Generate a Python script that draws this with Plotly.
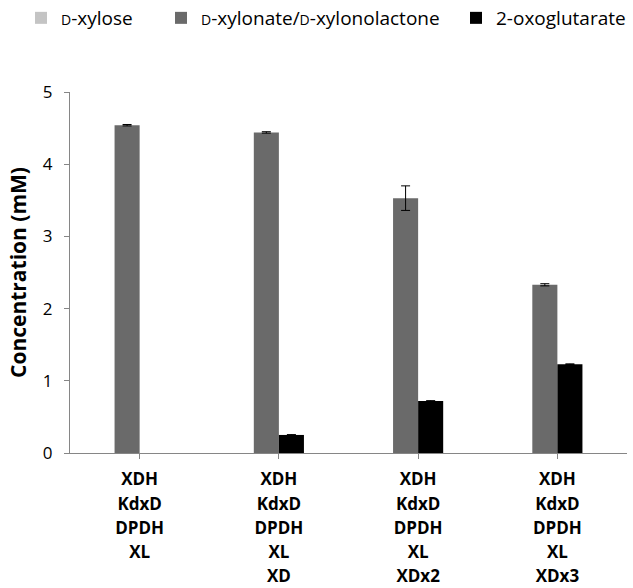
import plotly.graph_objects as go

categories = ["XDH<br>KdxD<br>DPDH<br>XL",
              "XDH<br>KdxD<br>DPDH<br>XL<br>XD",
              "XDH<br>KdxD<br>DPDH<br>XL<br>XDx2",
              "XDH<br>KdxD<br>DPDH<br>XL<br>XDx3"]
xylose = [None, None, None, None]
xylonate = [4.54, 4.44, 3.53, 2.33]
xylonate_err = [0.01, 0.01, 0.17, 0.015]
oxoglutarate = [None, 0.25, 0.72, 1.23]
oxoglutarate_err = [0, 0.005, 0.005, 0.005]
y_ticks = [0, 1, 2, 3, 4, 5]

keys = list(range(len(categories)))
ticktext = ["<br>".join("<span style='font-size:17px'>" + s + "</span>" for s in c.split("<br>"))
            for c in categories]

small_d = "<span style='font-size:14px'>D</span>"

W, H = 633, 588

fig = go.Figure()
fig.add_trace(go.Bar(
    name=small_d + "-xylose", x=keys, y=xylose, legend="legend",
    marker=dict(color="#c4c4c4", line=dict(width=0)), width=0.18, offset=-0.36))
fig.add_trace(go.Bar(
    name=small_d + "-xylonate/" + small_d + "-xylonolactone", legend="legend2",
    x=keys, y=xylonate,
    marker=dict(color="#6a6a6a", line=dict(width=0)),
    width=0.18, offset=-0.18,
    error_y=dict(type="data", array=xylonate_err, color="black", thickness=1, width=4.5)))
fig.add_trace(go.Bar(
    name="2-oxoglutarate", x=keys, y=oxoglutarate, legend="legend3",
    marker=dict(color="#000000", line=dict(width=0)),
    width=0.18, offset=0.0,
    error_y=dict(type="data", array=oxoglutarate_err, color="black", thickness=1, width=4.5)))

def leg(text_x):
    return dict(orientation="h", x=(text_x - 36) / W, xanchor="left",
                y=1 - 18 / H, yanchor="middle", xref="container", yref="container",
                font=dict(size=19), itemclick=False, itemdoubleclick=False,
                bgcolor="rgba(0,0,0,0)")

fig.update_layout(
    width=W, height=H,
    margin=dict(l=70, r=6, t=92, b=135, autoexpand=False),
    paper_bgcolor="white", plot_bgcolor="white",
    font=dict(family="Open Sans", color="black"),
    showlegend=True,
    legend=leg(57), legend2=leg(197), legend3=leg(492),
    barmode="overlay",
)
fig.update_xaxes(
    tickmode="array", tickvals=keys, ticktext=ticktext,
    range=[-0.5, 3.5], tickson="boundaries",
    ticks="outside", ticklen=5, tickcolor="#868686",
    showline=True, linecolor="#868686", linewidth=1,
    tickfont=dict(size=18.6, family="Open Sans", weight="bold"),
    ticklabelstandoff=4,
    showgrid=False, zeroline=False, automargin=False,
)
fig.update_yaxes(
    range=[0, 5], tickvals=y_ticks,
    ticks="outside", ticklen=5, tickcolor="#868686",
    showline=True, linecolor="#868686", linewidth=1,
    tickfont=dict(size=17), showgrid=False, zeroline=False, automargin=False,
    ticklabelstandoff=8,
    title=dict(text="<b>Concentration (mM)</b>", font=dict(size=21), standoff=10),
)
fig.write_html("out.html", config={"displayModeBar": False},
               post_script="document.body.style.margin='0';")
